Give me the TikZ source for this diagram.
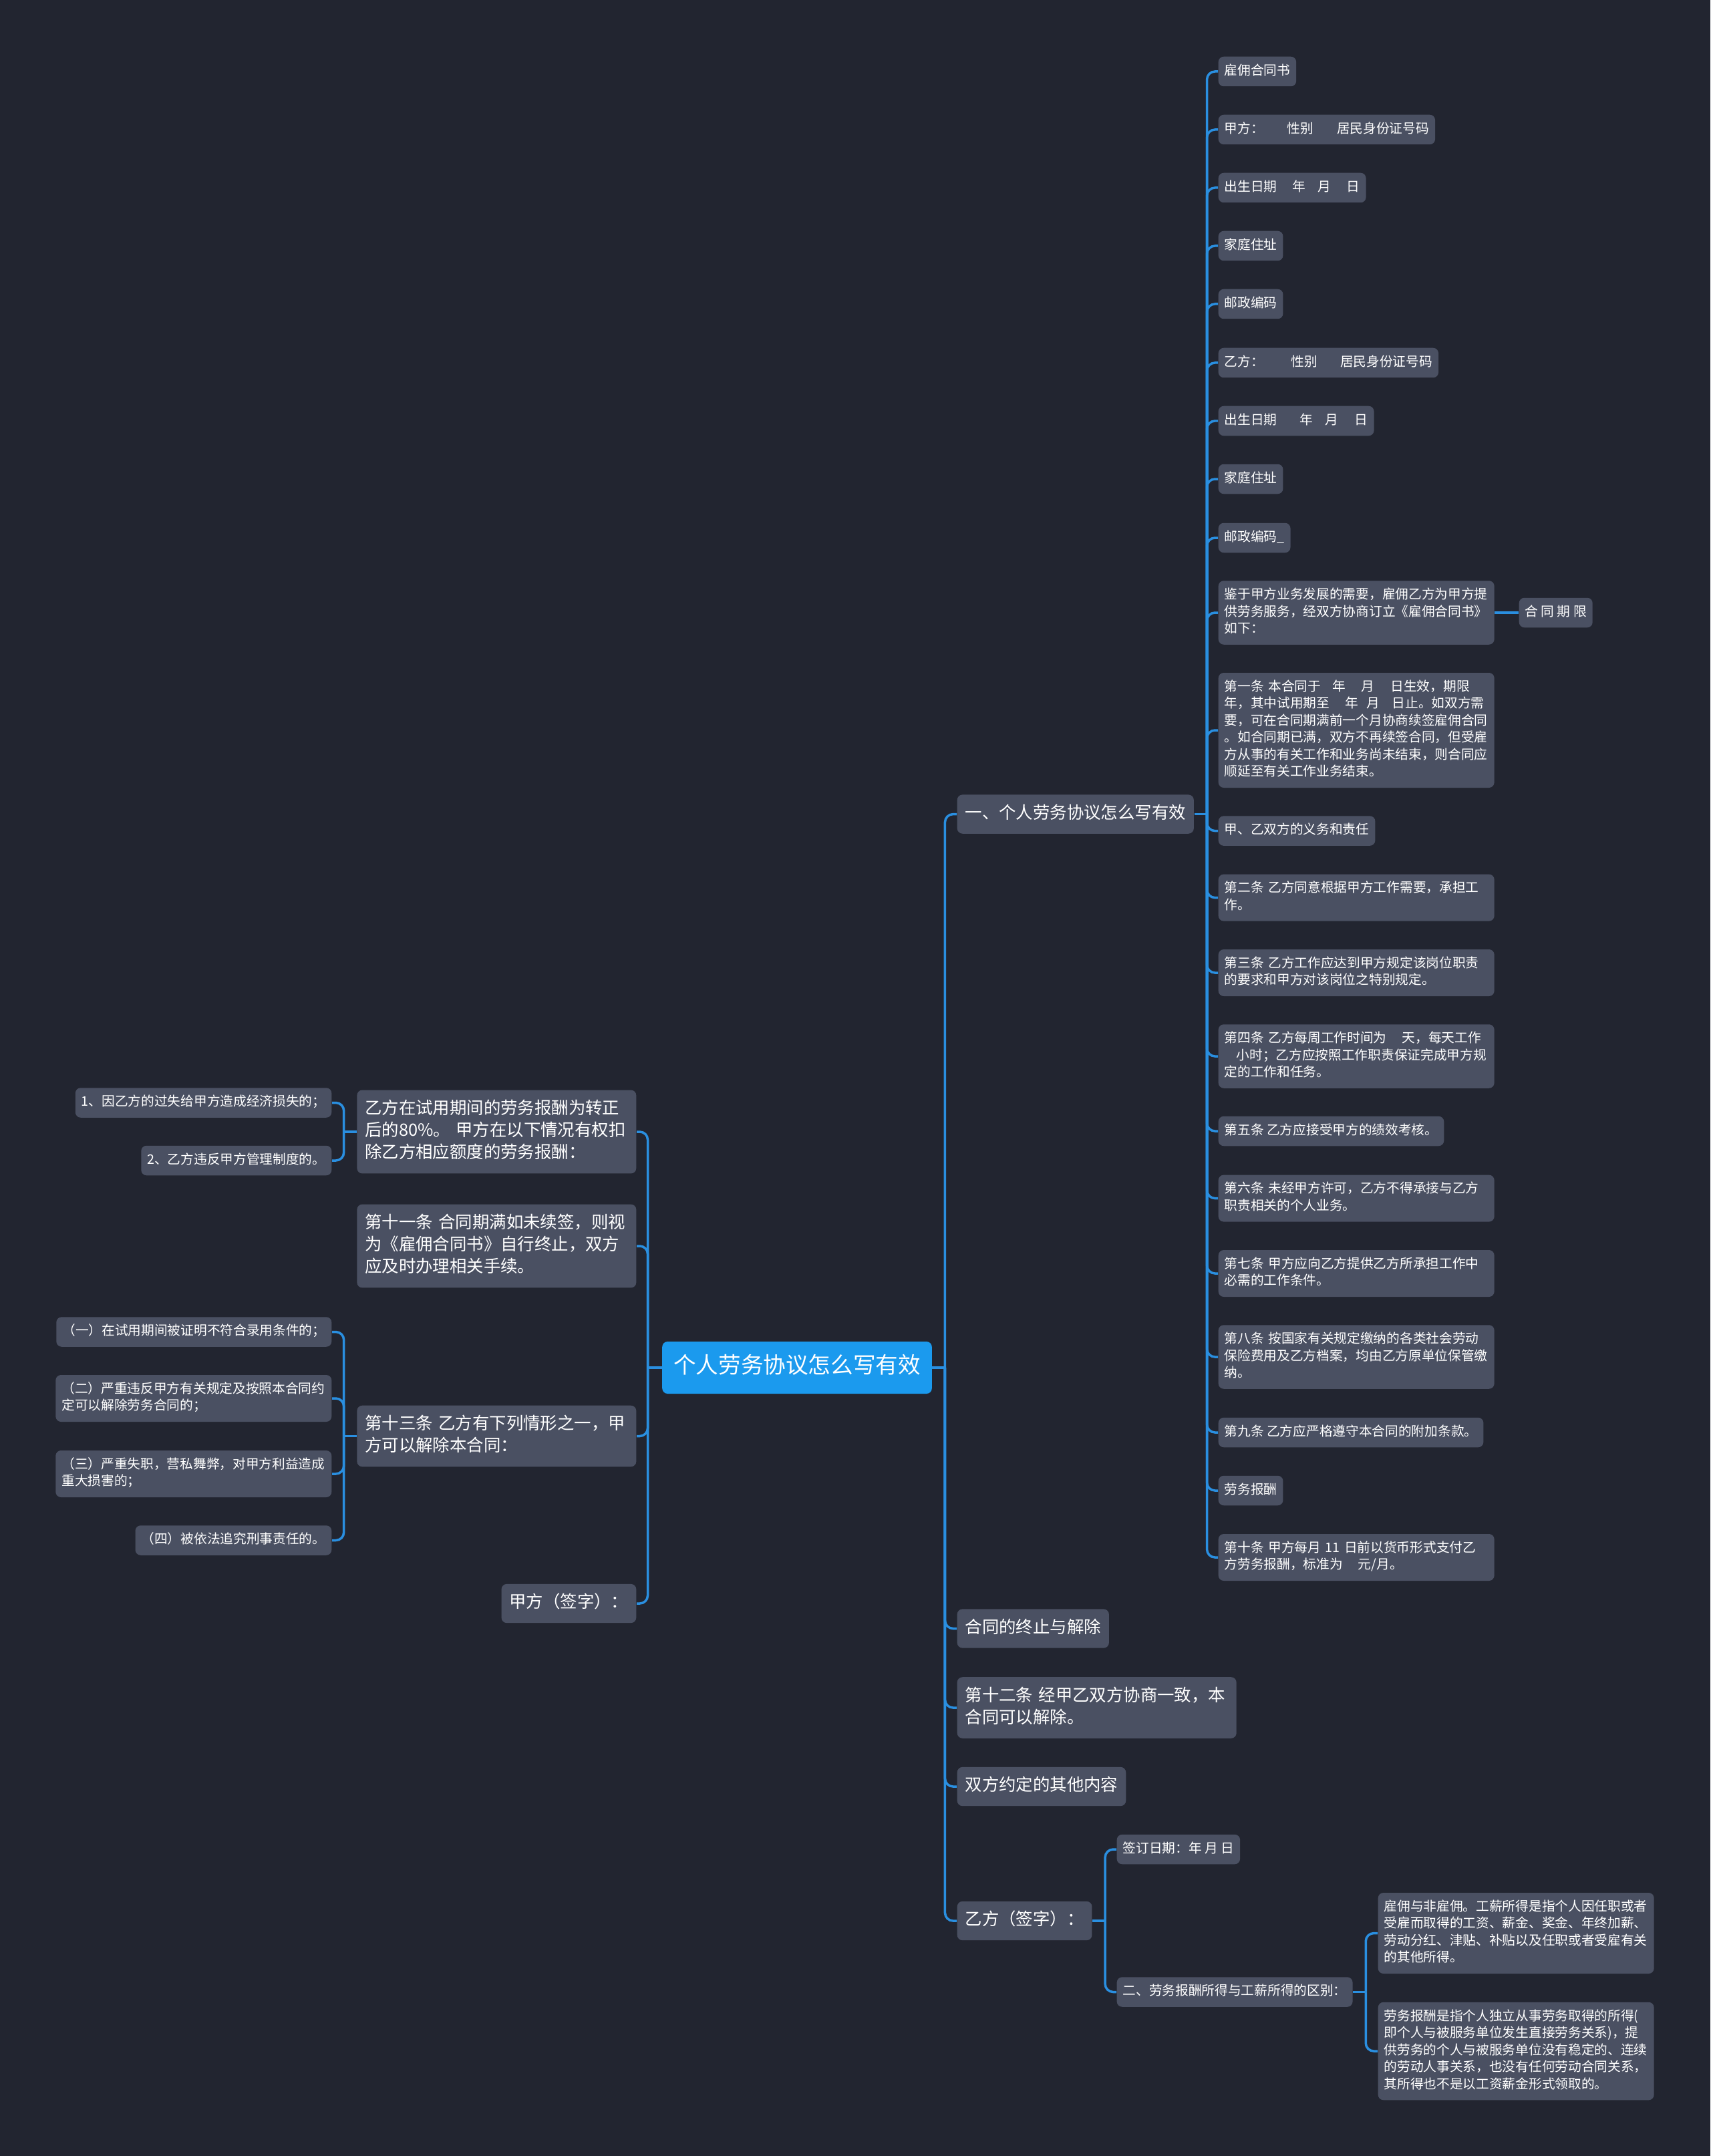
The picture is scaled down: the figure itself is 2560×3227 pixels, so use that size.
\documentclass[tikz,border=0pt]{standalone}
\usepackage{fontspec}
\setmainfont{Noto Sans CJK SC}
\usetikzlibrary{calc}
\definecolor{bgc}{HTML}{222530}
\definecolor{nodec}{HTML}{4A5062}
\definecolor{rootc}{HTML}{1B9AEE}
\definecolor{linec}{HTML}{2A8FE0}
\newlength\pxu \setlength\pxu{0.3pt}
\setlength\parindent{0pt}
\newcommand\smallf{\fontsize{5.91pt}{7.65pt}\selectfont}
\newcommand\bigf{\fontsize{7.62pt}{9.99pt}\selectfont}
\newcommand\rootf{\fontsize{10.08pt}{12.9pt}\selectfont}
\newcommand\gap[1]{\hspace*{#1\pxu}}
\tikzset{
  box/.style={fill=nodec, rounded corners=2.4pt, text=white, align=left,
    execute at begin node=\strut, execute at end node=\strut},
  sm/.style={box, font=\smallf, inner xsep=2.7pt, inner ysep=2.85pt},
  smw/.style={sm, text width=118.5pt},
  bg/.style={box, font=\bigf, inner xsep=3.6pt, inner ysep=3.75pt},
  bgw/.style={bg, text width=118.2pt},
  rootbox/.style={fill=rootc, rounded corners=2.4pt, text=white, font=\rootf,
    inner xsep=5.1pt, inner ysep=5.25pt, execute at begin node=\strut},
  conn/.style={draw=linec, line width=1.05pt, rounded corners=3.6pt},
}
\begin{document}
\begin{tikzpicture}[x=0.3pt,y=-0.3pt]
\path[use as bounding box, fill=bgc] (0,0) rectangle (2560,3227);

% root
\node[rootbox] (root) at (1193,2047) {个人劳务协议怎么写有效};

% right main branches
\node[bg, anchor=west] (a1) at (1432,1218.6) {一、个人劳务协议怎么写有效};
\node[bg, anchor=west] (a2) at (1432,2437.5) {合同的终止与解除};
\node[bgw, anchor=west] (a3) at (1432,2556) {第十二条 经甲乙双方协商一致，本\\合同可以解除。};
\node[bg, anchor=west] (a4) at (1432,2674) {双方约定的其他内容};
\node[bg, anchor=west] (a5) at (1432,2875) {乙方（签字）：};

% right leaves of a1
\node[sm, anchor=west] (r1) at (1823,107) {雇佣合同书};
\node[sm, anchor=west] (r2) at (1823,194) {甲方：\gap{35}性别\gap{35}居民身份证号码};
\node[sm, anchor=west] (r3) at (1823,281) {出生日期\gap{23}年\gap{18}月\gap{24}日};
\node[sm, anchor=west] (r4) at (1823,368) {家庭住址};
\node[sm, anchor=west] (r5) at (1823,455) {邮政编码};
\node[sm, anchor=west] (r6) at (1823,543) {乙方：\gap{41}性别\gap{34}居民身份证号码};
\node[sm, anchor=west] (r7) at (1823,630) {出生日期\gap{34}年\gap{18}月\gap{25}日};
\node[sm, anchor=west] (r8) at (1823,717) {家庭住址};
\node[sm, anchor=west] (r9) at (1823,805) {邮政编码\_};
\node[smw, anchor=west] (r10) at (1823,917) {鉴于甲方业务发展的需要，雇佣乙方为甲方提\\供劳务服务，经双方协商订立《雇佣合同书》\\如下：};
\node[sm, anchor=west] (rq) at (2273,917) {合 同 期 限};
\node[smw, anchor=west] (r11) at (1823,1093) {第一条 本合同于\gap{17}年\gap{24}月\gap{24}日生效，期限\\年，其中试用期至\gap{23}年\gap{13}月\gap{18}日止。如双方需\\要，可在合同期满前一个月协商续签雇佣合同\\。如合同期已满，双方不再续签合同，但受雇\\方从事的有关工作和业务尚未结束，则合同应\\顺延至有关工作业务结束。};
\node[sm, anchor=west] (r12) at (1823,1243.6) {甲、乙双方的义务和责任};
\node[smw, anchor=west] (r13) at (1823,1343.6) {第二条 乙方同意根据甲方工作需要，承担工\\作。};
\node[smw, anchor=west] (r14) at (1823,1456) {第三条 乙方工作应达到甲方规定该岗位职责\\的要求和甲方对该岗位之特别规定。};
\node[smw, anchor=west] (r15) at (1823,1581) {第四条 乙方每周工作时间为\gap{23}天，每天工作\\\gap{18}小时；乙方应按照工作职责保证完成甲方规\\定的工作和任务。};
\node[sm, anchor=west] (r16) at (1823,1693) {第五条 乙方应接受甲方的绩效考核。};
\node[smw, anchor=west] (r17) at (1823,1793.6) {第六条 未经甲方许可，乙方不得承接与乙方\\职责相关的个人业务。};
\node[smw, anchor=west] (r18) at (1823,1906) {第七条 甲方应向乙方提供乙方所承担工作中\\必需的工作条件。};
\node[smw, anchor=west] (r19) at (1823,2031) {第八条 按国家有关规定缴纳的各类社会劳动\\保险费用及乙方档案，均由乙方原单位保管缴\\纳。};
\node[sm, anchor=west] (r20) at (1823,2144) {第九条 乙方应严格遵守本合同的附加条款。};
\node[sm, anchor=west] (r21) at (1823,2231) {劳务报酬};
\node[smw, anchor=west] (r22) at (1823,2331) {第十条 甲方每月 11 日前以货币形式支付乙\\方劳务报酬，标准为\gap{23}元/月。};

% children of a5
\node[sm, anchor=west] (b1) at (1671,2768) {签订日期：年 月 日};
\node[sm, anchor=west] (b2) at (1671,2981.5) {二、劳务报酬所得与工薪所得的区别：};
\node[smw, anchor=west] (c1) at (2062,2893.5) {雇佣与非雇佣。工薪所得是指个人因任职或者\\受雇而取得的工资、薪金、奖金、年终加薪、\\劳动分红、津贴、补贴以及任职或者受雇有关\\的其他所得。};
\node[smw, anchor=west] (c2) at (2062,3070) {劳务报酬是指个人独立从事劳务取得的所得(\\即个人与被服务单位发生直接劳务关系)，提\\供劳务的个人与被服务单位没有稳定的、连续\\的劳动人事关系，也没有任何劳动合同关系，\\其所得也不是以工资薪金形式领取的。};

% left main branches
\node[bgw, anchor=east] (l1) at (953,1694) {乙方在试用期间的劳务报酬为转正\\后的80\%。 甲方在以下情况有权扣\\除乙方相应额度的劳务报酬：};
\node[bgw, anchor=east] (l2) at (953,1865) {第十一条 合同期满如未续签，则视\\为《雇佣合同书》自行终止，双方\\应及时办理相关手续。};
\node[bgw, anchor=east] (l3) at (953,2149.5) {第十三条 乙方有下列情形之一，甲\\方可以解除本合同：};
\node[bg, anchor=east] (l4) at (953,2400) {甲方（签字）：};

% left leaves
\node[sm, anchor=east] (m1) at (497,1650.5) {1、因乙方的过失给甲方造成经济损失的；};
\node[sm, anchor=east] (m2) at (497,1737) {2、乙方违反甲方管理制度的。};
\node[sm, anchor=east] (k1) at (497,1993.5) {（一）在试用期间被证明不符合录用条件的；};
\node[smw, anchor=east] (k2) at (497,2093) {（二）严重违反甲方有关规定及按照本合同约\\定可以解除劳务合同的；};
\node[smw, anchor=east] (k3) at (497,2206) {（三）严重失职，营私舞弊，对甲方利益造成\\重大损害的；};
\node[sm, anchor=east] (k4) at (497,2305.5) {（四）被依法追究刑事责任的。};

% junctions
\coordinate (jR) at ([xshift=5.7pt]root.east);
\coordinate (jL) at ([xshift=-6.3pt]root.west);
\coordinate (jA1) at ([xshift=5.7pt]a1.east);
\coordinate (jA5) at ([xshift=5.7pt]a5.east);
\coordinate (jB2) at ([xshift=5.7pt]b2.east);
\coordinate (jL1) at ([xshift=-5.7pt]l1.west);
\coordinate (jL3) at ([xshift=-5.7pt]l3.west);

% connectors
\draw[conn] (root.east) -- (jR);
\foreach \c in {a1,a2,a3,a4,a5} \draw[conn] (jR) |- (\c.west);
\draw[conn] (root.west) -- (jL);
\foreach \c in {l1,l2,l3,l4} \draw[conn] (jL) |- (\c.east);

\draw[conn] (a1.east) -- (jA1);
\foreach \c in {r1,r2,r3,r4,r5,r6,r7,r8,r9,r10,r11,r12,r13,r14,r15,r16,r17,r18,r19,r20,r21,r22}
  \draw[conn] (jA1) |- (\c.west);
\draw[conn] (r10.east) -- (rq.west);

\draw[conn] (a5.east) -- (jA5);
\foreach \c in {b1,b2} \draw[conn] (jA5) |- (\c.west);
\draw[conn] (b2.east) -- (jB2);
\foreach \c in {c1,c2} \draw[conn] (jB2) |- (\c.west);

\draw[conn] (l1.west) -- (jL1);
\foreach \c in {m1,m2} \draw[conn] (jL1) |- (\c.east);
\draw[conn] (l3.west) -- (jL3);
\foreach \c in {k1,k2,k3,k4} \draw[conn] (jL3) |- (\c.east);
\end{tikzpicture}
\end{document}
